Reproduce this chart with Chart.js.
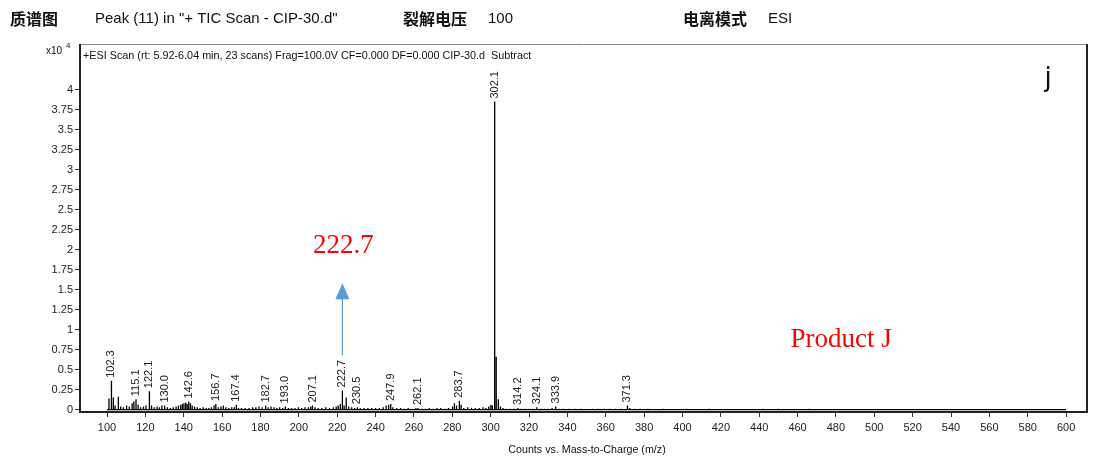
<!DOCTYPE html>
<html>
<head>
<meta charset="utf-8">
<script src="https://cdn.jsdelivr.net/npm/chart.js@4.4.1/dist/chart.umd.min.js"></script>
<style>
  body { margin: 0; background: #fff; }
  #wrap { position: relative; width: 1097px; height: 466px; }
</style>
</head>
<body>
<div id="wrap"><canvas id="myChart"></canvas></div>
<script>
// m/z values and counts (x10^4)
var mz = [
  101.0, 102.3, 103.3, 104.2, 105.9, 107.1, 108.5, 110.2, 111.6, 113.1, 114.0, 115.1, 116.2, 117.5, 119.0, 120.3,
  122.1, 123.2, 124.6, 126.1, 127.3, 128.6, 130.0, 131.4, 133.0, 134.5, 136.0, 137.2, 138.4, 139.3, 140.1, 141.0,
  141.8, 142.6, 143.5, 144.4, 145.6, 147.0, 148.5, 150.1, 151.6, 153.0, 154.4, 155.8, 156.7, 158.0, 159.4, 160.6,
  162.0, 163.5, 165.0, 166.3, 167.4, 168.5, 170.1, 172.0, 174.0, 175.9, 177.6, 179.2, 180.8, 182.7, 184.0, 185.5,
  187.1, 188.5, 190.0, 191.6, 193.0, 194.6, 196.2, 198.0, 199.8, 201.5, 203.2, 205.0, 206.2, 207.1, 208.4, 210.0,
  212.0, 214.0, 216.0, 218.0, 219.5, 220.5, 221.6, 222.7, 223.6, 224.7, 226.0, 227.5, 229.0, 230.5, 232.0, 234.0,
  236.0, 238.0, 240.0, 242.0, 244.0, 245.5, 246.8, 247.9, 249.0, 251.0, 253.0, 255.0, 257.0, 259.0, 261.0, 262.1,
  264.0, 266.0, 268.0, 270.0, 272.0, 274.0, 276.0, 278.0, 280.1, 281.1, 282.2, 283.7, 284.6, 286.0, 288.0, 290.0,
  292.0, 294.0, 296.0, 297.5, 299.0, 300.1, 300.9, 302.1, 302.9, 304.0, 305.1, 306.5, 308.0, 310.0, 312.0, 314.2,
  316.0, 318.0, 320.0, 322.0, 324.1, 326.0, 328.0, 330.0, 332.0, 333.9, 335.5, 338.0, 341.0, 344.0, 347.0, 350.0,
  353.0, 356.0, 359.0, 362.0, 365.0, 368.0, 371.3, 372.5, 375.0, 378.0, 382.0, 386.0, 390.0, 394.0, 398.0, 402.0,
  406.0, 410.0, 414.0, 420.0, 426.0, 432.0, 438.0, 442.0, 446.0, 450.0, 453.0, 458.0, 466.0, 472.0, 480.0, 488.0,
  494.0, 500.0, 510.0, 520.0, 530.0, 540.0, 550.0, 560.0, 570.0, 580.0, 590.0
];
var counts = [
  0.14, 0.36, 0.15, 0.05, 0.16, 0.04, 0.03, 0.05, 0.04, 0.08, 0.10, 0.13, 0.06, 0.03, 0.04, 0.05,
  0.23, 0.05, 0.03, 0.04, 0.03, 0.05, 0.05, 0.03, 0.02, 0.03, 0.04, 0.05, 0.06, 0.07, 0.08, 0.09,
  0.07, 0.10, 0.08, 0.05, 0.04, 0.03, 0.02, 0.03, 0.02, 0.02, 0.03, 0.05, 0.07, 0.03, 0.04, 0.05,
  0.03, 0.02, 0.03, 0.03, 0.06, 0.02, 0.02, 0.02, 0.02, 0.03, 0.03, 0.04, 0.03, 0.05, 0.03, 0.04,
  0.03, 0.02, 0.03, 0.02, 0.04, 0.02, 0.02, 0.02, 0.03, 0.02, 0.03, 0.03, 0.04, 0.05, 0.03, 0.02,
  0.02, 0.03, 0.02, 0.03, 0.04, 0.05, 0.07, 0.24, 0.05, 0.15, 0.04, 0.03, 0.02, 0.03, 0.02, 0.02,
  0.02, 0.02, 0.02, 0.02, 0.03, 0.05, 0.06, 0.07, 0.03, 0.02, 0.02, 0.01, 0.02, 0.01, 0.02, 0.02,
  0.01, 0.01, 0.02, 0.01, 0.02, 0.02, 0.01, 0.02, 0.04, 0.08, 0.05, 0.11, 0.06, 0.02, 0.03, 0.02,
  0.02, 0.02, 0.03, 0.02, 0.04, 0.06, 0.05, 3.85, 0.66, 0.13, 0.04, 0.02, 0.01, 0.01, 0.01, 0.02,
  0.01, 0.01, 0.01, 0.01, 0.03, 0.01, 0.01, 0.01, 0.02, 0.04, 0.01, 0.01, 0.01, 0.01, 0.01, 0.005,
  0.01, 0.01, 0.01, 0.01, 0.01, 0.01, 0.05, 0.02, 0.01, 0.01, 0.01, 0.005, 0.01, 0.005, 0.005, 0.01,
  0.005, 0.005, 0.01, 0.005, 0.005, 0.005, 0.005, 0.01, 0.005, 0.01, 0.005, 0.005, 0.01, 0.005, 0.005, 0.005,
  0.005, 0.005, 0.005, 0.005, 0.005, 0.005, 0.005, 0.005, 0.005, 0.005, 0.005
];
// peaks that carry a m/z label
var labelled = [102.3, 115.1, 122.1, 130.0, 142.6, 156.7, 167.4, 182.7, 193.0, 207.1, 222.7, 230.5, 247.9, 262.1, 283.7, 302.1, 314.2, 324.1, 333.9, 371.3];
var xTicks = [100, 120, 140, 160, 180, 200, 220, 240, 260, 280, 300, 320, 340, 360, 380, 400, 420, 440, 460, 480, 500, 520, 540, 560, 580, 600];
var yTicks = [0, 0.25, 0.5, 0.75, 1, 1.25, 1.5, 1.75, 2, 2.25, 2.5, 2.75, 3, 3.25, 3.5, 3.75, 4];

var markedPeak = 222.7;

// stick spectrum: every peak goes up from the baseline and back down
var sticks = [{ x: 100, y: 0 }];
for (var i = 0; i < mz.length; i++) {
  sticks.push({ x: mz[i], y: 0 });
  sticks.push({ x: mz[i], y: counts[i] });
  sticks.push({ x: mz[i], y: 0 });
}
sticks.push({ x: 600, y: 0 });

function countAt(m) {
  var idx = mz.indexOf(m);
  return idx < 0 ? 0 : counts[idx];
}

var sans = '"Liberation Sans", Arial, sans-serif';
var cjk = '"Noto Sans CJK SC", sans-serif';
var serif = '"Liberation Serif", "Times New Roman", serif';

var decorations = {
  id: 'decorations',
  afterDatasetsDraw(chart) {
    var ctx = chart.ctx;
    var xs = chart.scales.x;
    var ys = chart.scales.y;
    var a = chart.chartArea;
    ctx.save();

    // frame
    ctx.strokeStyle = '#888';
    ctx.lineWidth = 1;
    ctx.beginPath();
    ctx.moveTo(a.left, a.top + 0.5);
    ctx.lineTo(a.right, a.top + 0.5);
    ctx.stroke();
    ctx.strokeStyle = '#222';
    ctx.lineWidth = 2;
    ctx.beginPath();
    ctx.moveTo(a.right, a.top);
    ctx.lineTo(a.right, a.bottom);
    ctx.lineTo(a.left, a.bottom);
    ctx.lineTo(a.left, a.top);
    ctx.stroke();

    // peak labels, rotated
    ctx.fillStyle = '#222';
    ctx.font = '11px ' + sans;
    ctx.textAlign = 'left';
    ctx.textBaseline = 'middle';
    labelled.forEach(function (m) {
      var px = xs.getPixelForValue(m);
      var py = ys.getPixelForValue(countAt(m)) - 3;
      ctx.save();
      ctx.translate(px, py);
      ctx.rotate(-Math.PI / 2);
      ctx.fillText(m.toFixed(1), 0, 0);
      ctx.restore();
    });

    // scan description inside the frame
    ctx.font = '10.8px ' + sans;
    ctx.fillStyle = '#111';
    ctx.fillText('+ESI Scan (rt: 5.92-6.04 min, 23 scans) Frag=100.0V CF=0.000 DF=0.000 CIP-30.d  Subtract', a.left + 3, a.top + 12);

    // arrow to the marked peak
    var ax = xs.getPixelForValue(markedPeak);
    var yBase = ys.getPixelForValue(0.68);
    var yTip = ys.getPixelForValue(1.58);
    ctx.strokeStyle = '#5b9bd5';
    ctx.fillStyle = '#5b9bd5';
    ctx.lineWidth = 1.2;
    ctx.beginPath();
    ctx.moveTo(ax, yBase);
    ctx.lineTo(ax, yTip + 14);
    ctx.stroke();
    ctx.beginPath();
    ctx.moveTo(ax, yTip);
    ctx.lineTo(ax - 7, yTip + 16);
    ctx.lineTo(ax + 7, yTip + 16);
    ctx.closePath();
    ctx.fill();

    ctx.fillStyle = '#ff0000';
    ctx.font = '27px ' + serif;
    ctx.textAlign = 'center';
    ctx.fillText(markedPeak.toFixed(1), ax + 1, ys.getPixelForValue(2.04));
    ctx.fillText('Product J', xs.getPixelForValue(482.7), ys.getPixelForValue(0.87));

    ctx.fillStyle = '#111';
    ctx.font = '26px "DejaVu Sans", sans-serif';
    ctx.fillText('j', xs.getPixelForValue(590.6), ys.getPixelForValue(4.13));

    // axis title
    ctx.font = '10.7px ' + sans;
    ctx.fillText('Counts vs. Mass-to-Charge (m/z)', 587, 450);

    // exponent
    ctx.textAlign = 'left';
    ctx.font = '10px ' + sans;
    ctx.fillText('x10', 46, 51);
    ctx.font = '8px ' + sans;
    ctx.fillText('4', 66, 46);

    // header line
    ctx.fillStyle = '#111';
    ctx.font = 'bold 16px ' + cjk;
    ctx.fillText('质谱图', 10, 19);
    ctx.fillText('裂解电压', 403, 19);
    ctx.fillText('电离模式', 683, 19);
    ctx.font = '15px ' + sans;
    ctx.fillText('Peak (11) in "+ TIC Scan - CIP-30.d"', 95, 19);
    ctx.fillText('100', 488, 19);
    ctx.fillText('ESI', 768, 19);

    ctx.restore();
  },
};

var config = {
  type: 'line',
  data: {
    datasets: [
      {
        data: sticks,
        borderColor: '#000',
        borderWidth: 1.3,
        pointRadius: 0,
        tension: 0,
        fill: false,
      },
    ],
  },
  options: {
    responsive: true,
    maintainAspectRatio: false,
    animation: false,
    layout: { padding: { top: 44, right: 10, left: 0, bottom: 0 } },
    plugins: { legend: { display: false }, tooltip: { enabled: false } },
    scales: {
      x: {
        type: 'linear',
        min: 85.9,
        max: 610.9,
        afterFit: function (s) { s.height = 54; },
        afterBuildTicks: function (s) { s.ticks = xTicks.map(function (v) { return { value: v }; }); },
        grid: { drawOnChartArea: false, drawTicks: true, tickLength: 5, color: '#333' },
        border: { display: false },
        ticks: {
          color: '#222',
          font: { family: sans, size: 11 },
          padding: 4,
          maxRotation: 0,
          autoSkip: false,
          callback: function (v) { return String(v); },
        },
      },
      y: {
        type: 'linear',
        min: -0.03,
        max: 4.57,
        afterFit: function (s) { s.width = 80; },
        afterBuildTicks: function (s) { s.ticks = yTicks.map(function (v) { return { value: v }; }); },
        grid: { drawOnChartArea: false, drawTicks: true, tickLength: 5, color: '#333' },
        border: { display: false },
        ticks: {
          color: '#222',
          font: { family: sans, size: 11 },
          padding: 2,
          autoSkip: false,
          callback: function (v) { return String(v); },
        },
      },
    },
  },
  plugins: [decorations],
};

new Chart(document.getElementById('myChart'), config);
</script>
</body>
</html>
